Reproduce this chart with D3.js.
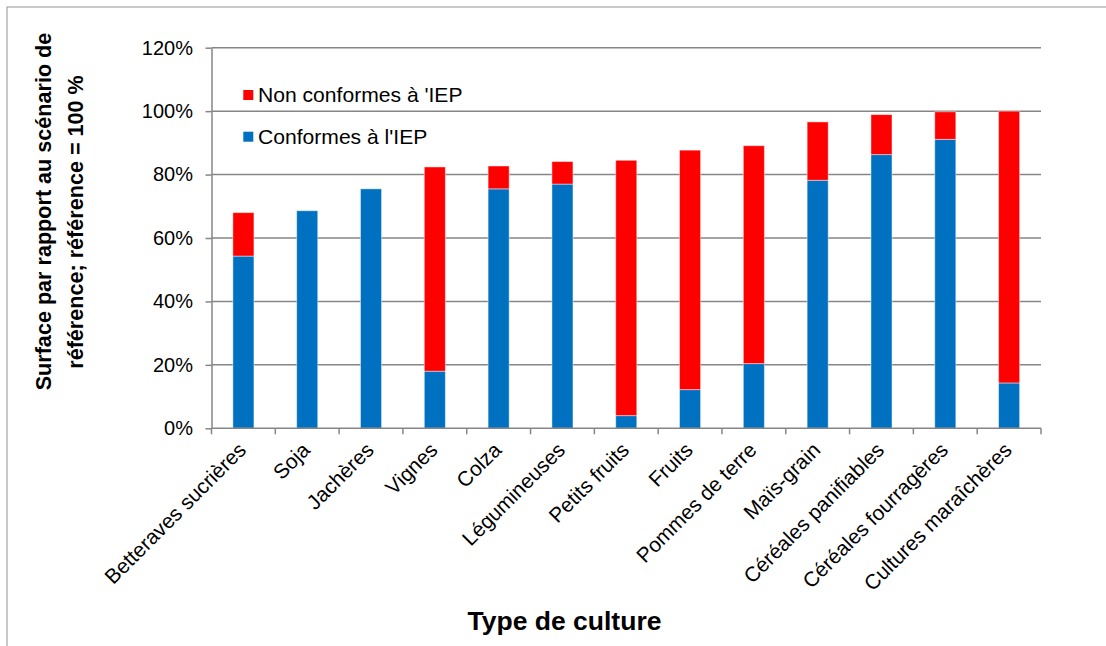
<!DOCTYPE html>
<html>
<head>
<meta charset="utf-8">
<script src="https://cdn.jsdelivr.net/npm/d3@7"></script>
<style>
  html, body { margin: 0; padding: 0; background: #fff; }
  svg { display: block; font-family: "Liberation Sans", Arial, sans-serif; }
</style>
</head>
<body>
<svg id="chart" width="1106" height="646"></svg>
<script>
const categories = ["Betteraves sucrières", "Soja", "Jachères", "Vignes", "Colza", "Légumineuses",
  "Petits fruits", "Fruits", "Pommes de terre", "Maïs-grain", "Céréales panifiables",
  "Céréales fourragères", "Cultures maraîchères"];
const conformes =    [0.543, 0.686, 0.755, 0.180, 0.755, 0.770, 0.040, 0.122, 0.204, 0.782, 0.863, 0.911, 0.143];
const nonConformes = [0.137, 0.000, 0.000, 0.644, 0.072, 0.071, 0.805, 0.755, 0.687, 0.184, 0.126, 0.087, 0.857];
const yTicks = [0, 0.2, 0.4, 0.6, 0.8, 1.0, 1.2];
const seriesNames = ["Conformes à l'IEP", "Non conformes à 'IEP"];
const seriesColors = ["#0070C0", "#FF0000"];
const yTitleLines = ["Surface par rapport au scénario de", "référence; référence = 100 %"];
const xTitle = "Type de culture";

(function () {
const svg = d3.select("#chart");
const pLeft = 211.5, pRight = 1041, pTop = 47.7, pBottom = 428.3;
const gridColor = "#868686";

// outer frame
svg.append("rect").attr("x", 7).attr("y", 7).attr("width", 1200).attr("height", 800)
  .attr("fill", "none").attr("stroke", "#a6a6a6").attr("stroke-width", 1.2);

const x = d3.scaleBand().domain(categories).range([pLeft, pRight]).padding(0);
const y = d3.scaleLinear().domain([0, 1.2]).range([pBottom, pTop]);

// gridlines
svg.append("g").selectAll("line").data(yTicks.filter(d => d > 0)).join("line")
  .attr("x1", pLeft).attr("x2", pRight)
  .attr("y1", d => y(d)).attr("y2", d => y(d))
  .attr("stroke", gridColor).attr("stroke-width", 1.5);

// stacked data
const rows = categories.map((c, i) => ({cat: c, conf: conformes[i], non: nonConformes[i]}));
const stack = d3.stack().keys(["conf", "non"])(rows);

const bw = x.bandwidth() * 0.33;
svg.append("g").selectAll("g").data(stack).join("g")
  .attr("fill", (d, i) => seriesColors[i])
  .selectAll("rect").data(d => d.filter(p => p[1] - p[0] > 0)).join("rect")
  .attr("x", d => x(d.data.cat) + (x.bandwidth() - bw) / 2)
  .attr("width", bw)
  .attr("y", d => y(d[1]))
  .attr("height", d => y(d[0]) - y(d[1]))
  .attr("stroke", "#ffffff").attr("stroke-opacity", 0.45).attr("stroke-width", 1);

// y axis
const yAxis = d3.axisLeft(y).tickValues(yTicks).tickFormat(d3.format(".0%"))
  .tickSizeInner(6).tickSizeOuter(0).tickPadding(12.5);
const gy = svg.append("g").attr("transform", `translate(${pLeft},0)`).call(yAxis);
gy.select(".domain").attr("stroke", gridColor).attr("stroke-width", 1.5);
gy.selectAll(".tick line").attr("stroke", gridColor).attr("stroke-width", 1.5);
gy.selectAll(".tick text").attr("font-size", 20).attr("fill", "#000")
  .attr("font-family", "Liberation Sans, Arial, sans-serif");

// x axis line
svg.append("line").attr("x1", pLeft).attr("x2", pRight).attr("y1", pBottom).attr("y2", pBottom)
  .attr("stroke", gridColor).attr("stroke-width", 1.5);
// boundary ticks
const bounds = categories.map(c => x(c)).concat([pRight]);
svg.append("g").selectAll("line").data(bounds).join("line")
  .attr("x1", d => d).attr("x2", d => d).attr("y1", pBottom).attr("y2", pBottom + 6)
  .attr("stroke", gridColor).attr("stroke-width", 1.5);

// x labels
svg.append("g").selectAll("text").data(categories).join("text")
  .attr("transform", d => `translate(${x(d) + x.bandwidth() / 2 + 4},${pBottom + 23}) rotate(-45)`)
  .attr("text-anchor", "end").attr("font-size", 20.8).attr("fill", "#000")
  .text(d => d);

// legend
const legendItems = [{name: seriesNames[1], color: seriesColors[1], y: 95},
                     {name: seriesNames[0], color: seriesColors[0], y: 136.7}];
const lg = svg.append("g").selectAll("g").data(legendItems).join("g");
lg.append("rect").attr("x", 243.3).attr("y", d => d.y - 5).attr("width", 10).attr("height", 10)
  .attr("fill", d => d.color);
lg.append("text").attr("x", 258).attr("y", d => d.y + 7).attr("font-size", 21.1).attr("fill", "#000")
  .text(d => d.name);

// y title
[[yTitleLines[0], 51, 211.5], [yTitleLines[1], 83, 222]].forEach(([t, bx, cy]) => {
  svg.append("text").attr("font-weight", "bold").attr("font-size", 21.6).attr("fill", "#000")
    .attr("text-anchor", "middle")
    .attr("transform", `translate(${bx},${cy}) rotate(-90)`).text(t);
});

// x title
svg.append("text").attr("x", 564.5).attr("y", 630).attr("text-anchor", "middle")
  .attr("font-weight", "bold").attr("font-size", 26.5).attr("fill", "#000").text(xTitle);
})();
</script>
</body>
</html>
